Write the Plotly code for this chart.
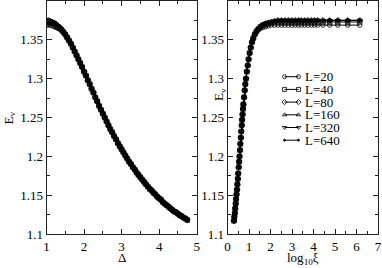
import plotly.graph_objects as go

W, H = 382, 268

# ---------------- data: left panel (E_v vs Delta) ----------------
delta = [1.00, 1.05, 1.10, 1.15, 1.20, 1.25, 1.30, 1.35, 1.40, 1.45,
         1.50, 1.55, 1.60, 1.65, 1.70, 1.75, 1.80, 1.85, 1.90, 1.95,
         2.00, 2.05, 2.10, 2.15, 2.20, 2.25, 2.30, 2.35, 2.40, 2.45,
         2.50, 2.55, 2.60, 2.65, 2.70, 2.75, 2.80, 2.85, 2.90, 2.95,
         3.00, 3.05, 3.10, 3.15, 3.20, 3.25, 3.30, 3.35, 3.40, 3.45,
         3.50, 3.55, 3.60, 3.65, 3.70, 3.75, 3.80, 3.85, 3.90, 3.95,
         4.00, 4.05, 4.10, 4.15, 4.20, 4.25, 4.30, 4.35, 4.40, 4.45,
         4.50, 4.55, 4.60, 4.65, 4.70, 4.75]
e_left_big = [1.375, 1.375, 1.374, 1.373, 1.372, 1.370, 1.368, 1.366, 1.363, 1.360,
              1.357, 1.353, 1.349, 1.345, 1.340, 1.335, 1.330, 1.325, 1.320, 1.315,
              1.309, 1.304, 1.298, 1.293, 1.287, 1.282, 1.276, 1.271, 1.265, 1.260,
              1.255, 1.250, 1.245, 1.240, 1.235, 1.231, 1.226, 1.222, 1.217, 1.213,
              1.209, 1.205, 1.201, 1.197, 1.193, 1.190, 1.186, 1.183, 1.179, 1.176,
              1.173, 1.170, 1.167, 1.164, 1.161, 1.158, 1.156, 1.153, 1.151, 1.148,
              1.146, 1.144, 1.141, 1.139, 1.137, 1.135, 1.133, 1.131, 1.129, 1.128,
              1.126, 1.124, 1.123, 1.121, 1.120, 1.118]
e_left_L20_head = [1.369, 1.369, 1.369, 1.368, 1.367, 1.366, 1.365, 1.364, 1.362]
e_left_L40_head = [1.373, 1.373, 1.373, 1.372, 1.371, 1.369, 1.367, 1.365, 1.363]

# ---------------- data: right panel (E_v vs log10 xi) ----------------
logxi = [0.30, 0.32, 0.34, 0.36, 0.38, 0.40, 0.42, 0.44, 0.46, 0.48,
         0.50, 0.52, 0.54, 0.56, 0.58, 0.60, 0.62, 0.64, 0.66, 0.68,
         0.70, 0.72, 0.74, 0.77, 0.80, 0.83, 0.86, 0.90, 0.94, 0.98,
         1.03, 1.08, 1.14, 1.20, 1.27, 1.35, 1.44, 1.54, 1.65, 1.77,
         1.90, 2.04, 2.19, 2.35, 2.51, 2.67, 2.83, 2.99, 3.14, 3.29,
         3.43, 3.59, 3.74, 3.90, 4.05, 4.20, 4.44, 4.75, 5.13, 5.59, 6.15]
e_right_big = [1.117, 1.122, 1.127, 1.133, 1.139, 1.145, 1.151, 1.157, 1.164, 1.171,
               1.178, 1.186, 1.193, 1.200, 1.208, 1.216, 1.224, 1.232, 1.240, 1.247,
               1.254, 1.261, 1.267, 1.276, 1.285, 1.293, 1.300, 1.309, 1.317, 1.325,
               1.333, 1.340, 1.347, 1.352, 1.357, 1.361, 1.364, 1.367, 1.369, 1.371,
               1.372, 1.373, 1.374, 1.375, 1.375, 1.375, 1.375, 1.375, 1.375, 1.375,
               1.375, 1.375, 1.375, 1.375, 1.375, 1.375, 1.375, 1.375, 1.375, 1.375, 1.375]
e_right_L20_tail = [1.365, 1.366, 1.367, 1.368, 1.369, 1.369, 1.369, 1.369, 1.369, 1.369,
                    1.369, 1.369, 1.369, 1.369, 1.369, 1.369, 1.369, 1.369, 1.369, 1.369,
                    1.369, 1.369, 1.369, 1.369]
e_right_L40_tail = [1.367, 1.369, 1.370, 1.371, 1.372, 1.373, 1.373, 1.373, 1.373, 1.373,
                    1.373, 1.373, 1.373, 1.373, 1.373, 1.373, 1.373, 1.373, 1.373, 1.373,
                    1.373, 1.373, 1.373, 1.373]

labels = ["L=20", "L=40", "L=80", "L=160", "L=320", "L=640"]
symbols = ["circle-open", "square-open", "diamond-open", "triangle-up-open",
           "triangle-down-open", "circle"]
msizes = [4.5, 4.5, 4.5, 4.5, 4.5, 2]

n_tail = len(e_right_L20_tail)
left_series = [
    e_left_L20_head + e_left_big[len(e_left_L20_head):],
    e_left_L40_head + e_left_big[len(e_left_L40_head):],
    e_left_big, e_left_big, e_left_big, e_left_big,
]
right_series = [
    e_right_big[:-n_tail] + e_right_L20_tail,
    e_right_big[:-n_tail] + e_right_L40_tail,
    e_right_big, e_right_big, e_right_big, e_right_big,
]

FONT = "Liberation Serif"
AX = "#222"
CLEAR = "rgba(0,0,0,0)"

fig = go.Figure()
for i, lab in enumerate(labels):
    mk = dict(symbol=symbols[i], size=msizes[i], color="black", line=dict(width=0.8, color="black"))
    fig.add_trace(go.Scatter(x=delta, y=left_series[i], mode="lines+markers", name=lab,
                             line=dict(color="black", width=1), marker=mk,
                             xaxis="x", yaxis="y", showlegend=False))
    fig.add_trace(go.Scatter(x=logxi, y=right_series[i], mode="lines+markers", name=lab,
                             line=dict(color="black", width=1), marker=mk,
                             xaxis="x2", yaxis="y2", showlegend=False))

# ---------------- legend (drawn on a pixel-coordinate overlay) ----------------
leg_y0, leg_dy = 76.7, 12.7
leg_x0, leg_x1, leg_tx = 284.5, 298.5, 302.5
for i, lab in enumerate(labels):
    yy = leg_y0 + i * leg_dy
    fig.add_trace(go.Scatter(x=[leg_x0, leg_x1], y=[yy, yy], mode="lines+markers",
                             line=dict(color="black", width=1),
                             marker=dict(symbol=symbols[i], size=4 if i < 5 else 2,
                                         color="black", line=dict(width=0.8, color="black")),
                             xaxis="x3", yaxis="y3", showlegend=False, hoverinfo="skip"))
    fig.add_annotation(x=leg_tx, y=yy, xref="x3", yref="y3", text=lab, showarrow=False,
                       xanchor="left", yanchor="middle",
                       font=dict(family=FONT, size=13, color="black"))

yt = [1.1, 1.15, 1.2, 1.25, 1.3, 1.35]
ytt = ["1.1", "1.15", "1.2", "1.25", "1.3", "1.35"]

y_dom = [(H - 234) / H, (H - 1) / H]
common_y = dict(range=[1.1, 1.4], tickvals=yt, ticktext=ytt, ticks="inside", ticklen=5,
                tickcolor=AX, showline=True, linecolor=AX, linewidth=1, mirror="ticks",
                showgrid=False, zeroline=False, automargin=False,
                minor=dict(dtick=0.025, ticks="inside", ticklen=3, tickcolor=AX, showgrid=False),
                tickfont=dict(family=FONT, size=13, color="black"))
common_x = dict(ticks="inside", ticklen=5, tickcolor=AX, showline=True, linecolor=AX, linewidth=1,
                mirror="ticks", showgrid=False, zeroline=False, automargin=False,
                minor=dict(dtick=0.5, ticks="inside", ticklen=3, tickcolor=AX, showgrid=False),
                tickfont=dict(family=FONT, size=13, color="black"))

fig.update_layout(
    template="none",
    width=W, height=H, margin=dict(l=0, r=0, t=0, b=0, pad=0),
    paper_bgcolor="white", plot_bgcolor=CLEAR, showlegend=False,
    xaxis=dict(domain=[46.5 / W, 196.7 / W], range=[1, 5], tickvals=[1, 2, 3, 4, 5],
               anchor="y", **common_x),
    yaxis=dict(domain=y_dom, anchor="x", **common_y),
    xaxis2=dict(domain=[227.5 / W, 378 / W], range=[0, 7], tickvals=list(range(8)),
                anchor="y2", **common_x),
    yaxis2=dict(domain=y_dom, anchor="x2", **common_y),
    xaxis3=dict(domain=[0, 1], range=[0, W], visible=False, anchor="y3", fixedrange=True,
                automargin=False),
    yaxis3=dict(domain=[0, 1], range=[H, 0], visible=False, anchor="x3", fixedrange=True,
                automargin=False),
)

# axis titles (pixel positions via the overlay axes)
title_font = dict(family=FONT, size=13, color="black")
fig.add_annotation(x=8.5, y=118, xref="x3", yref="y3", text="E<sub>v</sub>", textangle=-90,
                   showarrow=False, xanchor="center", yanchor="middle", font=title_font)
fig.add_annotation(x=219, y=95, xref="x3", yref="y3", text="E<sub>v</sub>", textangle=-90,
                   showarrow=False, xanchor="center", yanchor="middle", font=title_font)
fig.add_annotation(x=122, y=257, xref="x3", yref="y3", text="Δ",
                   showarrow=False, xanchor="center", yanchor="middle", font=title_font)
fig.add_annotation(x=303, y=258, xref="x3", yref="y3", text="log<sub>10</sub>ξ",
                   showarrow=False, xanchor="center", yanchor="middle", font=title_font)

fig.write_html("out.html", config={"displayModeBar": False},
               post_script="document.body.style.margin='0';document.body.style.overflow='hidden';")
